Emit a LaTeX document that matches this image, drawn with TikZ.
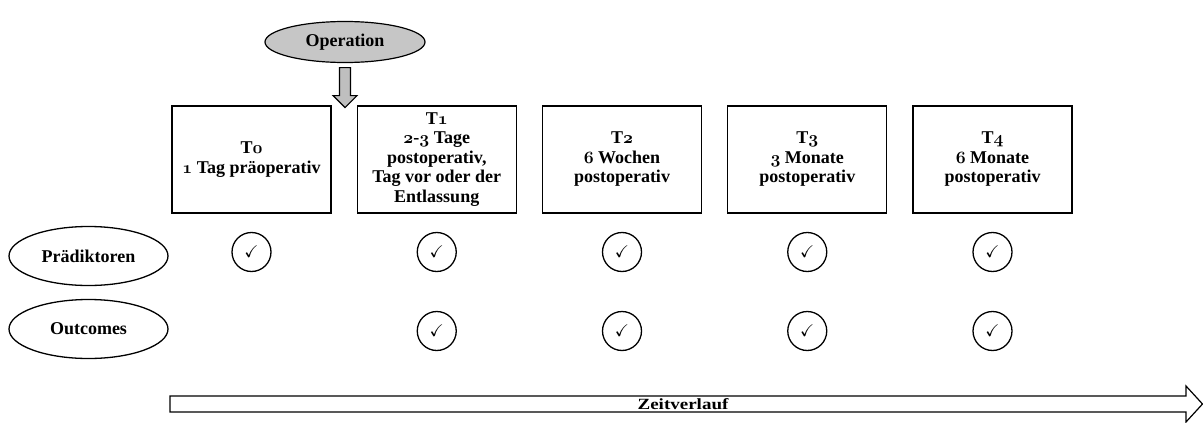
\documentclass[tikz,border=0pt]{standalone}
\usepackage{amssymb}
\usepackage{fontspec}
\setmainfont{Liberation Serif}
\usetikzlibrary{shapes.geometric}
% old style digits from the bold math italic font
\newcommand{\osnum}[1]{{\usefont{OML}{cmm}{b}{it}#1}}
\begin{document}
\begin{tikzpicture}[x=1pt, y=-1pt,
  phase/.style={draw, line width=1.3pt, minimum width=159pt, minimum height=107pt,
    inner sep=1pt, align=center, font=\bfseries\fontsize{18}{19.5}\selectfont},
  rowname/.style={ellipse, draw, line width=1.3pt, minimum width=159pt, minimum height=59pt,
    inner sep=0pt, font=\bfseries\fontsize{18}{20}\selectfont},
  checkcirc/.style={circle, draw, line width=1.3pt, minimum size=39pt, inner sep=0pt},
  blockarrow/.style={draw, line width=1.2pt, line join=miter}]
  \useasboundingbox (0,0) rectangle (1203,423);
  % operation above the gap between T0 and T1
  \node[ellipse, draw, line width=1.2pt, fill=gray!45, minimum width=160pt, minimum height=41pt,
    inner sep=0pt, font=\bfseries\fontsize{18}{20}\selectfont] (op) at (345,42) {Operation};
  \path (op.south) ++(0,4.5) coordinate (a0);
  \draw[blockarrow, fill=gray!50] (a0) ++(-5.5,0) -- ++(11,0) -- ++(0,28) -- ++(6.5,0)
    -- ++(-12,12) -- ++(-12,-12) -- ++(6.5,0) -- cycle;
  % measuring points
  \node[phase] (t0) at (251.5,159.5) {T\osnum{0}\\\osnum{1} Tag präoperativ};
  \node[phase] (t1) at (436.75,159.5) {T\osnum{1}\\\osnum{2}-\osnum{3} Tage\\postoperativ,\\Tag vor oder der\\Entlassung};
  \node[phase] (t2) at (622,159.5) {T\osnum{2}\\\osnum{6} Wochen\\postoperativ};
  \node[phase] (t3) at (807.25,159.5) {T\osnum{3}\\\osnum{3} Monate\\postoperativ};
  \node[phase] (t4) at (992.5,159.5) {T\osnum{4}\\\osnum{6} Monate\\postoperativ};
  % rows
  \node[rowname] (pred) at (88.5,256) {Prädiktoren};
  \node[rowname] (outc) at (88.5,329) {Outcomes};
  \foreach \k in {0,...,4}{
    \node[checkcirc] (p\k) at (t\k |- 0,252) {\scalebox{1.7}{$\checkmark$}};
  }
  \foreach \k in {1,...,4}{
    \node[checkcirc] (o\k) at (t\k |- 0,331) {\scalebox{1.7}{$\checkmark$}};
  }
  % time line
  \coordinate (z0) at (170,404);
  \draw[blockarrow] (z0) ++(0,-8) -- ++(1016,0) -- ++(0,-10) -- ++(16.5,18) -- ++(-16.5,18)
    -- ++(0,-10) -- ++(-1016,0) -- cycle;
  \node[font=\bfseries\fontsize{19}{20}\selectfont, inner sep=0pt] (zeit) at (683,404.5) {\scalebox{1}[0.82]{Zeitverlauf}};
\end{tikzpicture}
\end{document}
